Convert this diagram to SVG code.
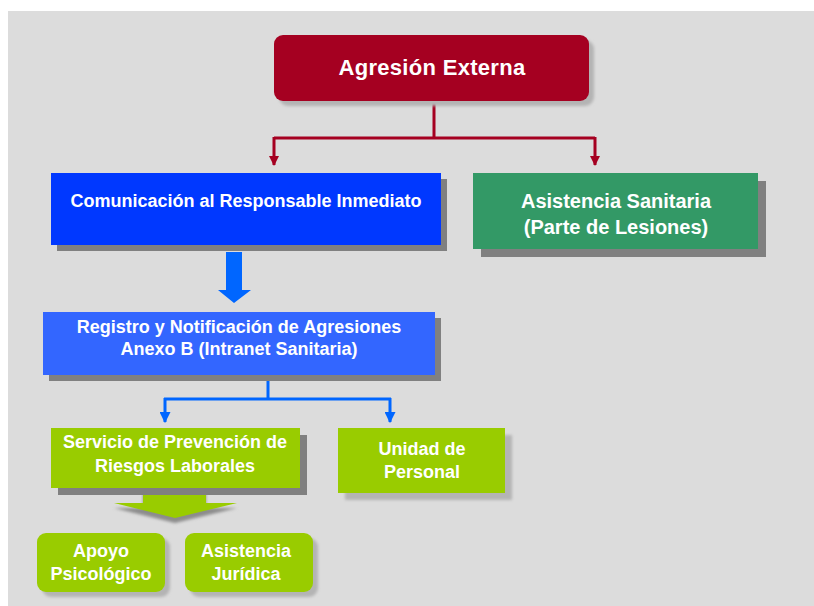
<svg xmlns="http://www.w3.org/2000/svg" width="814" height="606" viewBox="0 0 814 606">
<defs>
<filter id="soft" x="-10%" y="-10%" width="120%" height="130%"><feGaussianBlur stdDeviation="1.5"/></filter>
<marker id="ar" viewBox="0 0 10 10" refX="9" refY="5" markerWidth="10" markerHeight="10" markerUnits="userSpaceOnUse" orient="auto"><path d="M0,0 L10,5 L0,10 z" fill="#a50021"/></marker>
<marker id="ab" viewBox="0 0 10 10" refX="9" refY="5" markerWidth="11" markerHeight="11" markerUnits="userSpaceOnUse" orient="auto"><path d="M0,0 L10,5 L0,10 z" fill="#0066ff"/></marker>
</defs>
<style>
text{font-family:"Liberation Sans",Arial,sans-serif;font-weight:bold;fill:#ffffff;text-anchor:middle}
.t18{font-size:18px}
.t20{font-size:20px}
.sh{fill:#808080}
.shl{fill:#b4b4b4}
.red{stroke:#a50021;stroke-width:3;fill:none}
.blu{stroke:#0066ff;stroke-width:3;fill:none}
</style>
<rect x="0" y="0" width="814" height="606" fill="#ffffff"/>
<rect x="8" y="11" width="806" height="595" fill="#dcdcdc"/>

<g id="connectors">
<path class="red" d="M434,101 V138 M274,138 H595"/>
<path class="red" d="M274,137 V165" marker-end="url(#ar)"/>
<path class="red" d="M595,137 V165" marker-end="url(#ar)"/>
<path d="M226,252 H242 V290 H251 L234,303 L218,290 H226 Z" fill="#0066ff"/>
<path class="blu" d="M268,375 V399 M164,399 H391"/>
<path class="blu" d="M165,398 V422" marker-end="url(#ab)"/>
<path class="blu" d="M390,398 V422" marker-end="url(#ab)"/>
<path d="M143,493 H206 V508 H237 L175,523 L114,508 H143 Z" fill="#8c8c8c" filter="url(#soft)"/>
<path d="M143,488 H206 V503 H237 L175,518 L114,503 H143 Z" fill="#99cc00"/>
</g>

<g id="agresion">
<rect x="279" y="40" width="315" height="66" rx="9" class="shl" filter="url(#soft)"/>
<rect x="274" y="35" width="315" height="66" rx="9" fill="#a50021"/>
<text x="432" y="75" style="font-size:22px;letter-spacing:0.3px">Agresión Externa</text>
</g>

<g id="comunicacion">
<rect x="57" y="179" width="390" height="72" class="sh"/>
<rect x="51" y="173" width="390" height="72" fill="#0038ff"/>
<text x="246" y="207" class="t18">Comunicación al Responsable Inmediato</text>
</g>

<g id="asistencia-sanitaria">
<rect x="481" y="181" width="285" height="76" class="sh"/>
<rect x="473" y="173" width="285" height="76" fill="#339966"/>
<text x="616" y="208" class="t20">Asistencia Sanitaria</text>
<text x="616" y="234" class="t20">(Parte de Lesiones)</text>
</g>

<g id="registro">
<rect x="49" y="318" width="392" height="63" class="sh"/>
<rect x="43" y="312" width="392" height="63" fill="#3366ff"/>
<text x="239" y="333" class="t18">Registro y Notificación de Agresiones</text>
<text x="239" y="355" class="t18">Anexo B (Intranet Sanitaria)</text>
</g>

<g id="servicio-prevencion">
<rect x="58" y="435" width="249" height="60" class="sh"/>
<rect x="51" y="428" width="249" height="60" fill="#99cc00"/>
<text x="175" y="448" class="t18">Servicio de Prevención de</text>
<text x="175" y="472" class="t18">Riesgos Laborales</text>
</g>

<g id="unidad-personal">
<rect x="345" y="435" width="167" height="65" class="shl" filter="url(#soft)"/>
<rect x="338" y="428" width="167" height="65" fill="#99cc00"/>
<text x="422" y="455" class="t18">Unidad de</text>
<text x="422" y="478" class="t18">Personal</text>
</g>

<g id="apoyo-psicologico">
<rect x="42" y="538" width="128" height="59" rx="9" class="shl" filter="url(#soft)"/>
<rect x="37" y="533" width="128" height="59" rx="9" fill="#99cc00"/>
<text x="101" y="557" class="t18">Apoyo</text>
<text x="101" y="580" class="t18">Psicológico</text>
</g>

<g id="asistencia-juridica">
<rect x="190" y="538" width="128" height="59" rx="9" class="shl" filter="url(#soft)"/>
<rect x="185" y="533" width="128" height="59" rx="9" fill="#99cc00"/>
<text x="246" y="557" class="t18">Asistencia</text>
<text x="246" y="580" class="t18">Jurídica</text>
</g>
</svg>
